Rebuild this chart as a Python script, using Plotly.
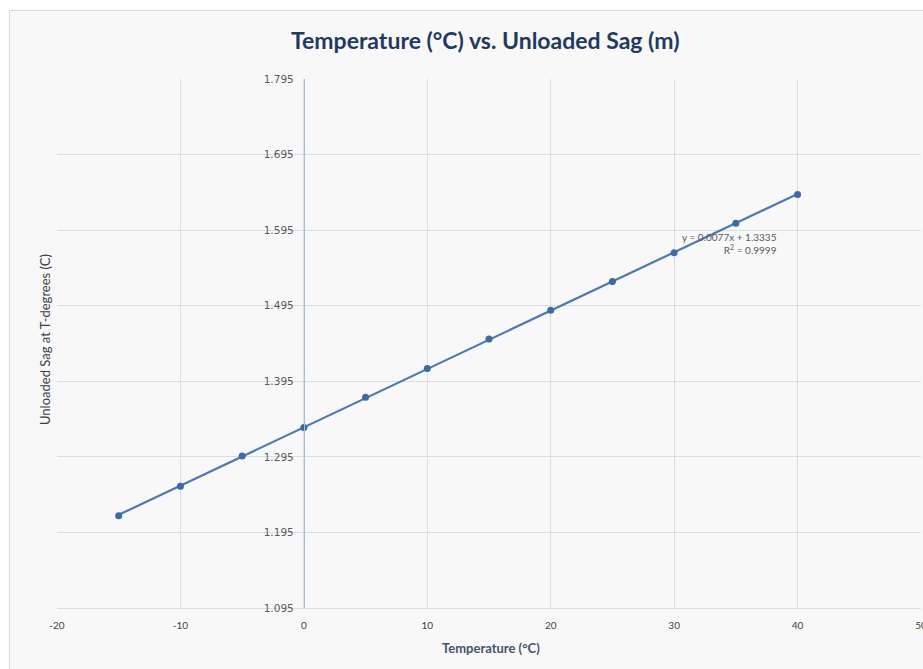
import numpy as np
import plotly.graph_objects as go

# Data
temperature = [-15, -10, -5, 0, 5, 10, 15, 20, 25, 30, 35, 40]
sag = [1.217, 1.256, 1.296, 1.334, 1.374, 1.412, 1.451, 1.489, 1.527, 1.565, 1.604, 1.642]

x_ticks = [-20, -10, 0, 10, 20, 30, 40, 50]
x_tick_labels = ["-20", "-10", "0", "10", "20", "30", "40", "50"]
y_ticks = [1.095, 1.195, 1.295, 1.395, 1.495, 1.595, 1.695, 1.795]
y_tick_labels = ["1.095", "1.195", "1.295", "1.395", "1.495", "1.595", "1.695", "1.795"]

title_text = "Temperature (°C) vs. Unloaded Sag (m)"
x_title = "Temperature (°C)"
y_title = "Unloaded Sag at T-degrees (C)"
eq_text = "y = 0.0077x + 1.3335<br>R<sup>2</sup> = 0.9999"

slope, intercept = np.polyfit(temperature, sag, 1)
trend_x = [min(temperature), max(temperature)]
trend_y = [slope * v + intercept for v in trend_x]

FONT = "Lato"
TXT = "#595959"
GRID = "#d9dee5"

fig = go.Figure()
fig.add_trace(go.Scatter(x=trend_x, y=trend_y, mode="lines",
                         line=dict(color="#4e79ad", width=2.2), hoverinfo="skip",
                         showlegend=False))
fig.add_trace(go.Scatter(x=temperature, y=sag, mode="markers",
                         marker=dict(color="#3c6ba3", size=7), showlegend=False))

W, H = 923, 669
L, R, T, B = 57, 2, 79, 61
pw, ph = W - L - R, H - T - B

def px_x(p):
    return (p - L) / pw

def px_y(p):
    return (H - B - p) / ph

fig.update_layout(
    width=W, height=H, autosize=False,
    margin=dict(l=L, r=R, t=T, b=B),
    paper_bgcolor="white",
    plot_bgcolor="rgba(0,0,0,0)",
    font=dict(family=FONT, color=TXT, size=10),
    xaxis=dict(range=[-20, 50], tickvals=x_ticks, ticktext=x_tick_labels,
               showgrid=True, gridcolor=GRID, automargin=False,
               gridwidth=1, zeroline=False, showline=True, linecolor=GRID,
               ticks="", tickfont=dict(family=FONT, size=10, color="#404040"),
               ticklabelstandoff=8, ticklabeloverflow="allow"),
    yaxis=dict(range=[1.095, 1.795], tickvals=y_ticks, ticktext=y_tick_labels,
               showgrid=True, gridcolor=GRID, gridwidth=1, zeroline=False,
               showline=True, linecolor="#a9bcd2", linewidth=1, automargin=False,
               anchor="free", position=20 / 70, ticks="",
               tickfont=dict(family="DejaVu Sans", size=10.5, color=TXT),
               ticklabelstandoff=8),
    shapes=[dict(type="rect", xref="paper", yref="paper", layer="below",
                 x0=px_x(9.5), x1=px_x(940), y0=px_y(700), y1=px_y(10.5),
                 fillcolor="#f8f8f8", line=dict(color="#d9d9d9", width=1))],
    annotations=[
        dict(text=f"<b>{title_text}</b>", xref="paper", yref="paper",
             x=px_x(485), y=px_y(40), showarrow=False, xanchor="center", yanchor="middle",
             font=dict(family=FONT, size=23, color="#1f3a60")),
        dict(text=f"<b>{x_title}</b>", xref="paper", yref="paper",
             x=px_x(491), y=px_y(648), showarrow=False, xanchor="center", yanchor="middle",
             font=dict(family=FONT, size=13, color="#44546a")),
        dict(text=y_title, xref="paper", yref="paper", textangle=-90,
             x=px_x(45), y=px_y(340), showarrow=False, xanchor="center", yanchor="middle",
             font=dict(family=FONT, size=13, color="#3a3f4a")),
        dict(text=eq_text, xref="x", yref="y", x=38.5, y=1.5773, showarrow=False,
             xanchor="right", yanchor="middle", align="right",
             font=dict(family=FONT, size=10, color=TXT)),
    ],
)

fig.write_html(
    "out.html",
    config={"responsive": False, "displayModeBar": False},
    post_script="document.body.style.margin='0';document.body.style.overflow='hidden';"
                "document.documentElement.style.overflow='hidden';",
)
